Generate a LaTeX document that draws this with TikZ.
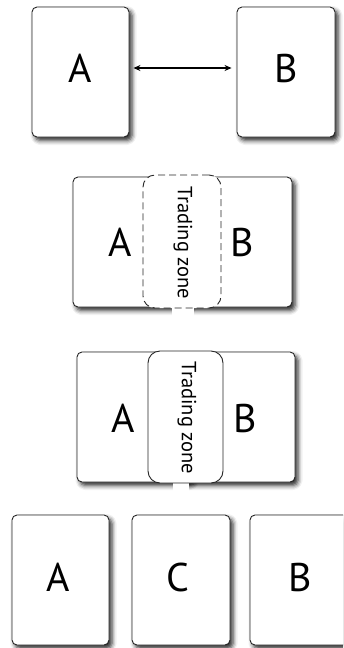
\documentclass[tikz,border=0pt]{standalone}
\usepackage{fontspec}
\setmainfont{PT Sans}
\usetikzlibrary{shadows.blur,arrows.meta}
\begin{document}
\begin{tikzpicture}[x=1pt,y=-1pt,
 card/.style={draw=black!85,line width=0.9pt,fill=white,rounded corners=5pt,inner sep=0pt,
   blur shadow={shadow xshift=3pt,shadow yshift=-3.5pt,shadow blur radius=4.5pt,shadow opacity=85}},
 zonebox/.style={draw=black!85,line width=0.9pt,fill=white,rounded corners=12pt,inner sep=0pt},
 gapfill/.style={fill=white,draw=none},
 big/.style={font=\fontsize{40}{44}\selectfont,text=black,inner sep=0pt},
 tz/.style={font=\fontsize{20.5}{24}\selectfont,text=black,rotate=-90,inner sep=0pt}]
\clip (0,0) rectangle (343,648);
% panel 1
\node[card,minimum width=97pt,minimum height=130pt] (a1) at (80.5,72) {};
\node[card,minimum width=98pt,minimum height=130pt] (b1) at (286,72) {};
\node[big] (la1) at (80,68) {A};
\node[big] (lb1) at (286,68) {B};
\draw[line width=1.1pt,{Stealth[length=7pt,width=6pt]}-{Stealth[length=7pt,width=6pt]},shorten <=4pt,shorten >=5pt]
  (a1.east |- la1) -- (b1.west |- lb1);
% panel 2
\node[card,minimum width=117pt,minimum height=130pt] (a2) at (131.5,242) {};
\node[card,minimum width=117pt,minimum height=130pt] (b2) at (233.5,242) {};
\fill[gapfill] (172,300) rectangle (194,318);
\node[zonebox,dash pattern=on 7pt off 4pt,minimum width=78pt,minimum height=133pt] (z2) at (182,241.5) {};
\node[big] (la2) at (120,242) {A};
\node[big] (lb2) at (242,242) {B};
\node[tz] (t2) at (183,243) {Trading zone};
% panel 3
\node[card,minimum width=115pt,minimum height=130pt] (a3) at (134.5,417) {};
\node[card,minimum width=117pt,minimum height=130pt] (b3) at (236.5,417) {};
\fill[gapfill] (173,475) rectangle (189,493);
\node[zonebox,minimum width=75pt,minimum height=132pt] (z3) at (185.5,417) {};
\node[big] (la3) at (123,418) {A};
\node[big] (lb3) at (245,418) {B};
\node[tz] (t3) at (187,418) {Trading zone};
% panel 4
\node[card,minimum width=97pt,minimum height=130pt] (a4) at (60.5,580) {};
\node[card,minimum width=98pt,minimum height=130pt] (c4) at (181,580) {};
\node[card,minimum width=98pt,minimum height=130pt] (b4) at (299,580) {};
\node[big] (la4) at (58,577) {A};
\node[big] (lc4) at (178,577) {C};
\node[big] (lb4) at (300,577) {B};
\end{tikzpicture}
\end{document}
